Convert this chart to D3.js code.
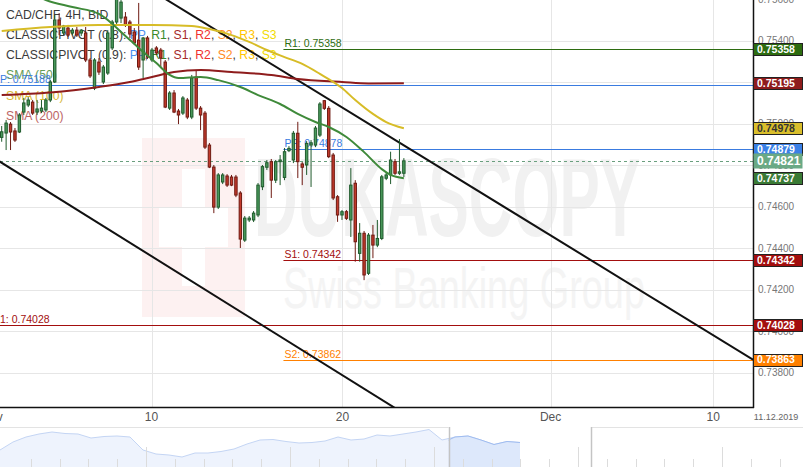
<!DOCTYPE html>
<html>
<head>
<meta charset="utf-8">
<script src="https://cdn.jsdelivr.net/npm/d3@7"></script>
<style>
  html, body { margin: 0; padding: 0; background: #fff; }
  svg { display: block; font-family: 'Liberation Sans', Arial, sans-serif; }
</style>
</head>
<body>
<div id="chart"></div>
<script>
// CAD/CHF 4H candles (bar index 0..91)
const opens = [0.74934, 0.74955, 0.74998, 0.74965, 0.74960, 0.75056, 0.75090, 0.75104, 0.75056, 0.75061,
  0.75066, 0.75114, 0.75201, 0.75500, 0.75437, 0.75461, 0.75437, 0.75451, 0.75437, 0.75437,
  0.75307, 0.75171, 0.75297, 0.75201, 0.75244, 0.75365, 0.75490, 0.75509, 0.75514, 0.75490,
  0.75442, 0.75403, 0.75307, 0.75413, 0.75307, 0.75365, 0.75355, 0.75297, 0.75075, 0.75148,
  0.75061, 0.75051, 0.75114, 0.75032, 0.75225, 0.75075, 0.75051, 0.74897, 0.74791, 0.74598,
  0.74719, 0.74748, 0.74743, 0.74743, 0.74666, 0.74439, 0.74536, 0.74536, 0.74560, 0.74696,
  0.74790, 0.74817, 0.74728, 0.74817, 0.74741, 0.74870, 0.74825, 0.74954, 0.74806, 0.74801,
  0.74897, 0.74897, 0.74945, 0.75111, 0.75074, 0.74849, 0.74648, 0.74560, 0.74576, 0.74536,
  0.74713, 0.74375, 0.74472, 0.74279, 0.74463, 0.74415, 0.74447, 0.74737, 0.74753, 0.74817,
  0.74761, 0.74761]
const highs = [0.74989, 0.75018, 0.75008, 0.74979, 0.75051, 0.75124, 0.75128, 0.75114, 0.75114, 0.75114,
  0.75124, 0.75210, 0.75524, 0.75533, 0.75476, 0.75476, 0.75461, 0.75466, 0.75456, 0.75466,
  0.75316, 0.75316, 0.75316, 0.75283, 0.75451, 0.75500, 0.75644, 0.75625, 0.75538, 0.75500,
  0.75461, 0.75582, 0.75418, 0.75423, 0.75365, 0.75374, 0.75365, 0.75307, 0.75157, 0.75162,
  0.75071, 0.75133, 0.75124, 0.75235, 0.75259, 0.75085, 0.75061, 0.74907, 0.74801, 0.74762,
  0.74762, 0.74757, 0.74753, 0.74753, 0.74675, 0.74555, 0.74555, 0.74579, 0.74714, 0.74801,
  0.74825, 0.74830, 0.74825, 0.74849, 0.74883, 0.74892, 0.74965, 0.75009, 0.74815, 0.74916,
  0.74921, 0.74989, 0.75104, 0.75114, 0.75085, 0.74859, 0.74656, 0.74584, 0.74584, 0.74786,
  0.74728, 0.74521, 0.74483, 0.74473, 0.74512, 0.74536, 0.74753, 0.74767, 0.74865, 0.74830,
  0.74926, 0.74834]
const lows = [0.74913, 0.74873, 0.74873, 0.74912, 0.74955, 0.75042, 0.75080, 0.75042, 0.75042, 0.75051,
  0.75056, 0.75104, 0.75196, 0.75427, 0.75427, 0.75418, 0.75427, 0.75418, 0.75423, 0.75297,
  0.75220, 0.75162, 0.75235, 0.75191, 0.75235, 0.75355, 0.75480, 0.75485, 0.75466, 0.75413,
  0.75379, 0.75259, 0.75220, 0.75312, 0.75297, 0.75331, 0.75268, 0.75075, 0.75066, 0.75051,
  0.74998, 0.75042, 0.75022, 0.75022, 0.75066, 0.74969, 0.74878, 0.74786, 0.74569, 0.74589,
  0.74709, 0.74695, 0.74699, 0.74646, 0.74401, 0.74430, 0.74526, 0.74526, 0.74550, 0.74680,
  0.74777, 0.74642, 0.74714, 0.74704, 0.74728, 0.74863, 0.74810, 0.74738, 0.74704, 0.74753,
  0.74695, 0.74887, 0.74936, 0.75066, 0.74834, 0.74632, 0.74527, 0.74536, 0.74536, 0.74454,
  0.74335, 0.74335, 0.74246, 0.74271, 0.74352, 0.74405, 0.74439, 0.74728, 0.74709, 0.74753,
  0.74753, 0.74743]
const closes = [0.74961, 0.75003, 0.74960, 0.74921, 0.75042, 0.75100, 0.75114, 0.75051, 0.75071, 0.75075,
  0.75114, 0.75201, 0.75500, 0.75461, 0.75471, 0.75427, 0.75451, 0.75427, 0.75451, 0.75307,
  0.75230, 0.75307, 0.75249, 0.75273, 0.75437, 0.75490, 0.75615, 0.75586, 0.75476, 0.75432,
  0.75389, 0.75273, 0.75413, 0.75321, 0.75355, 0.75341, 0.75316, 0.75080, 0.75148, 0.75056,
  0.75042, 0.75124, 0.75032, 0.75220, 0.75075, 0.75042, 0.74887, 0.74791, 0.74598, 0.74753,
  0.74753, 0.74704, 0.74704, 0.74656, 0.74444, 0.74545, 0.74545, 0.74569, 0.74704, 0.74793,
  0.74812, 0.74728, 0.74817, 0.74825, 0.74865, 0.74881, 0.74954, 0.74817, 0.74790, 0.74905,
  0.74908, 0.74979, 0.75095, 0.75074, 0.74841, 0.74642, 0.74560, 0.74576, 0.74544, 0.74704,
  0.74431, 0.74472, 0.74271, 0.74463, 0.74415, 0.74447, 0.74744, 0.74753, 0.74825, 0.74761,
  0.74768, 0.74821]

// moving averages, sampled at bar indices
const sma50Idx = [4, 10, 16, 22, 28, 31, 35, 38, 40, 45, 49, 54, 58, 63, 67, 71, 74, 78, 82, 86, 88, 91]
const sma50Val = [0.75663, 0.75596, 0.75562, 0.75529, 0.75423, 0.75365, 0.75292, 0.75235, 0.75220, 0.75225, 0.75210,
  0.75177, 0.75138, 0.75095, 0.75047, 0.75008, 0.74984, 0.74936, 0.74863, 0.74781, 0.74753, 0.74737]
const sma100Idx = [0, 11, 22, 34, 43, 47, 52, 56, 60, 64, 68, 72, 77, 80, 84, 87, 91]
const sma100Val = [0.75447, 0.75466, 0.75476, 0.75476, 0.75471, 0.75456, 0.75427, 0.75394, 0.75355, 0.75321,
  0.75288, 0.75240, 0.75172, 0.75114, 0.75047, 0.75008, 0.74978]
const sma200Idx = [0, 11, 22, 29, 34, 39, 45, 52, 61, 67, 77, 83, 91]
const sma200Val = [0.75138, 0.75150, 0.75177, 0.75201, 0.75225, 0.75249, 0.75259, 0.75249, 0.75235, 0.75215,
  0.75201, 0.75194, 0.75195]

// channel lines (bar index, price)
const upperTrendIdx = [30, 170]
const upperTrendVal = [0.75693, 0.73863]
const lowerTrendIdx = [-1, 95]
const lowerTrendVal = [0.74825, 0.73550]

// pivots
const prevPivotNames = ['PP', 'S1']
const prevPivotVals = [0.75188, 0.74028]
const curPivotNames = ['R1', 'PP', 'S1', 'S2']
const curPivotVals = [0.75358, 0.74878, 0.74342, 0.73862]
const curPivotStart = 63.75

const lastPrice = 0.74821

// price tags on the right axis
const tagVals = [0.75358, 0.75195, 0.74978, 0.74879, 0.74821, 0.74737, 0.74342, 0.74028, 0.73863]
const tagKinds = ['r1', 'sma200', 'sma100', 'pp', 'last', 'sma50', 's1', 's1', 's2']

// axes
const yTicks = [0.738, 0.740, 0.742, 0.744, 0.746, 0.748, 0.750, 0.752, 0.754, 0.756]
const xTickIdx = [-2.2, 33.9, 77.1, 124.2, 161]
const xTickLabels = ['Nov', '10', '20', 'Dec', '10']
const dateLabel = '11.12.2019'

// navigator overview series
const navVals = [0.747, 0.755, 0.760, 0.763, 0.765, 0.7635, 0.763, 0.759, 0.7605, 0.761, 0.760,
  0.747, 0.743, 0.742, 0.740, 0.744, 0.744, 0.7455, 0.748, 0.753, 0.757, 0.7575, 0.7555, 0.754,
  0.7545, 0.756, 0.760, 0.757, 0.758, 0.762, 0.761, 0.763, 0.765, 0.7675, 0.757, 0.760, 0.761,
  0.757, 0.7525, 0.7555, 0.7545]
const navWindowStart = 34.5

const width = 803, height = 467
const plotW = 753, plotH = 407

const colors = {
  up: '#4a9a5c', upLine: '#1f5a2c',
  down: '#c33a2c', downLine: '#6e1a12',
  sma50: '#3f8a3a', sma100: '#d7bc27', sma200: '#8e1c1c',
  r1: '#2d6c10', pp: '#3a7be0', s1: '#a30e0e', s2: '#ff8000'
}
const tagStyle = {
  r1: { fill: '#2d6c10', text: '#fff' },
  sma200: { fill: '#8e1c1c', text: '#fff' },
  sma100: { fill: '#d9be2b', text: '#333' },
  pp: { fill: '#3a80e6', text: '#fff' },
  last: { fill: '#6aa985', text: '#fff' },
  sma50: { fill: '#3a7a35', text: '#fff' },
  s1: { fill: '#a30e0e', text: '#fff' },
  s2: { fill: '#ff8000', text: '#fff' }
}
const pivotColor = { R1: colors.r1, PP: colors.pp, S1: colors.s1, S2: colors.s2 }

const x = d3.scaleLinear().domain([-0.385, 170]).range([0, plotW])
const y = d3.scaleLinear().domain([0.736347, 0.755961]).range([plotH, 0])

const svg = d3.select('#chart').append('svg')
  .attr('width', width).attr('height', height)
  .attr('viewBox', [0, 0, width, height])

svg.append('defs').append('clipPath').attr('id', 'plotclip')
  .append('rect').attr('width', plotW).attr('height', plotH)

const plot = svg.append('g').attr('clip-path', 'url(#plotclip)')

// watermark: logo with cross, then the name
const wm = plot.append('g')
wm.append('rect').attr('x', 142).attr('y', 138).attr('width', 103).attr('height', 179).attr('fill', '#fdf1f1')
wm.append('rect').attr('x', 182).attr('y', 169).attr('width', 23).attr('height', 117).attr('fill', '#fff')
wm.append('rect').attr('x', 159).attr('y', 207).attr('width', 69).attr('height', 40).attr('fill', '#fff')
wm.append('text').attr('x', 254).attr('y', 236).text('DUKASCOPY')
  .attr('font-size', 112).attr('font-weight', 'bold').attr('fill', '#f1f1f1')
  .attr('textLength', 386).attr('lengthAdjust', 'spacingAndGlyphs')
wm.append('text').attr('x', 283).attr('y', 308).text('Swiss Banking Group')
  .attr('font-size', 57).attr('fill', '#f4f4f4')
  .attr('textLength', 362).attr('lengthAdjust', 'spacingAndGlyphs')

// grid
plot.append('g').selectAll('line').data(yTicks).enter().append('line')
  .attr('x1', 0).attr('x2', plotW)
  .attr('y1', d => Math.round(y(d)) + 0.5).attr('y2', d => Math.round(y(d)) + 0.5)
  .attr('stroke', '#e6e6e6')
plot.append('g').selectAll('line').data(xTickIdx).enter().append('line')
  .attr('x1', d => Math.round(x(d)) + 0.5).attr('x2', d => Math.round(x(d)) + 0.5)
  .attr('y1', 0).attr('y2', plotH)
  .attr('stroke', '#e6e6e6')

// legend
const legend = plot.append('g').attr('font-size', 12.2).attr('fill', '#3a3a3a')
legend.append('text').attr('x', 6).attr('y', 19).text('CAD/CHF, 4H, BID')
const pivotLegendParts = [['PP', '#4d90f0'], ['R1', '#3b8a2a'], ['S1', '#a52a2a'], ['R2', '#f03030'],
  ['S2', '#ff8a1f'], ['R3', '#ffc400'], ['S3', '#f2dc00']]
;['0.8', '0.9'].forEach((p, k) => {
  const t = legend.append('text').attr('x', 6).attr('y', 39 + k * 20)
  t.append('tspan').text('CLASSICPIVOT (' + p + '): ')
  pivotLegendParts.forEach((part, j) => {
    t.append('tspan').attr('fill', part[1]).text(part[0])
    if (j < pivotLegendParts.length - 1) t.append('tspan').text(', ')
  })
})
legend.append('text').attr('x', 6).attr('y', 79).attr('fill', '#4a8a3a').attr('opacity', 0.85).text('SMA (50)')
legend.append('text').attr('x', 6).attr('y', 100).attr('fill', '#d4b020').attr('opacity', 0.9).text('SMA (100)')
legend.append('text').attr('x', 6).attr('y', 120).attr('fill', '#b24a4a').attr('opacity', 0.85).text('SMA (200)')

// pivot lines
const pivots = plot.append('g').attr('font-size', 10.5)
prevPivotVals.forEach((v, k) => {
  const py = Math.round(y(v)) + 0.5
  pivots.append('line').attr('x1', 0).attr('x2', plotW).attr('y1', py).attr('y2', py)
    .attr('stroke', pivotColor[prevPivotNames[k]])
  pivots.append('text').attr('x', -7).attr('y', py - 2.5)
    .attr('fill', pivotColor[prevPivotNames[k]])
    .text(prevPivotNames[k] + ': ' + v.toFixed(5))
})
curPivotVals.forEach((v, k) => {
  const py = Math.round(y(v)) + 0.5
  const x0 = x(curPivotStart)
  pivots.append('line').attr('x1', x0).attr('x2', plotW).attr('y1', py).attr('y2', py)
    .attr('stroke', pivotColor[curPivotNames[k]])
  pivots.append('text').attr('x', x0 + 1).attr('y', py - 2.5)
    .attr('fill', pivotColor[curPivotNames[k]])
    .text(curPivotNames[k] + ': ' + v.toFixed(5))
})

// last price dashed line
plot.append('line').attr('x1', 0).attr('x2', plotW)
  .attr('y1', Math.round(y(lastPrice)) + 0.5).attr('y2', Math.round(y(lastPrice)) + 0.5)
  .attr('stroke', '#6a9f7e').attr('stroke-dasharray', '3,3')

// channel lines
const straight = d3.line().x(d => x(d[0])).y(d => y(d[1]))
plot.append('path').attr('d', straight(upperTrendIdx.map((d, k) => [d, upperTrendVal[k]])))
  .attr('stroke', '#111').attr('stroke-width', 2).attr('fill', 'none')
plot.append('path').attr('d', straight(lowerTrendIdx.map((d, k) => [d, lowerTrendVal[k]])))
  .attr('stroke', '#111').attr('stroke-width', 2).attr('fill', 'none')

// candles
const candles = opens.map((o, i) => ({ i, o, h: highs[i], l: lows[i], c: closes[i] }))
const cg = plot.append('g')
cg.selectAll('line').data(candles).enter().append('line')
  .attr('x1', d => x(d.i)).attr('x2', d => x(d.i))
  .attr('y1', d => y(d.h)).attr('y2', d => y(d.l))
  .attr('stroke', d => d.c >= d.o ? colors.upLine : colors.downLine)
cg.selectAll('rect').data(candles).enter().append('rect')
  .attr('x', d => x(d.i) - 1.2)
  .attr('width', 2.4)
  .attr('y', d => y(Math.max(d.o, d.c)))
  .attr('height', d => Math.max(1, y(Math.min(d.o, d.c)) - y(Math.max(d.o, d.c))))
  .attr('fill', d => d.c >= d.o ? colors.up : colors.down)
  .attr('stroke', d => d.c >= d.o ? colors.upLine : colors.downLine)
  .attr('stroke-width', 1)

// moving averages
const smooth = d3.line().x(d => x(d[0])).y(d => y(d[1])).curve(d3.curveMonotoneX)
;[[sma200Idx, sma200Val, colors.sma200], [sma100Idx, sma100Val, colors.sma100], [sma50Idx, sma50Val, colors.sma50]]
  .forEach(s => {
    plot.append('path').attr('d', smooth(s[0].map((d, k) => [d, s[1][k]])))
      .attr('stroke', s[2]).attr('stroke-width', 2).attr('fill', 'none')
  })

// axes frame
svg.append('line').attr('x1', plotW + 0.5).attr('x2', plotW + 0.5).attr('y1', 0).attr('y2', plotH + 1)
  .attr('stroke', '#111').attr('stroke-width', 1.5)
svg.append('line').attr('x1', 0).attr('x2', plotW + 1).attr('y1', plotH + 0.5).attr('y2', plotH + 0.5)
  .attr('stroke', '#111').attr('stroke-width', 1.5)

// y tick labels
svg.append('g').selectAll('text').data(yTicks).enter().append('text')
  .attr('x', 758).attr('y', d => y(d) + 3.5)
  .attr('font-size', 10).attr('fill', '#777')
  .text(d => d.toFixed(5))

// price tags
const tags = svg.append('g')
tagVals.forEach((v, k) => {
  const st = tagStyle[tagKinds[k]]
  const big = tagKinds[k] === 'last'
  const h = big ? 15 : 12
  const ty = y(v)
  tags.append('rect').attr('x', plotW + 0.5).attr('y', Math.round(ty - h / 2) + 0.5)
    .attr('width', 49).attr('height', h)
    .attr('fill', st.fill).attr('stroke', big ? 'none' : '#222').attr('stroke-width', 1)
  tags.append('text').attr('x', 757).attr('y', ty + (big ? 4.5 : 3.8))
    .attr('font-size', big ? 12 : 10.5).attr('font-weight', 'bold').attr('fill', st.text)
    .text(v.toFixed(5))
})

// x tick labels
svg.append('g').selectAll('text').data(xTickIdx).enter().append('text')
  .attr('x', d => x(d)).attr('y', 421)
  .attr('text-anchor', 'middle').attr('font-size', 12).attr('fill', '#555')
  .text((d, k) => xTickLabels[k])
svg.append('text').attr('x', 776).attr('y', 420).attr('text-anchor', 'middle')
  .attr('font-size', 9).attr('fill', '#666').text(dateLabel)

// navigator
const nav = svg.append('g').attr('transform', 'translate(0,427)')
const nx = d3.scaleLinear().domain([0, navVals.length - 1]).range([0, 520])
const ny = d3.scaleLinear().domain([0.73, 0.77]).range([40, 0])
nav.append('line').attr('x1', 0).attr('x2', nx(navWindowStart)).attr('y1', 0.5).attr('y2', 0.5).attr('stroke', '#e3e3e3')
nav.append('line').attr('x1', 591).attr('x2', width).attr('y1', 0.5).attr('y2', 0.5).attr('stroke', '#e3e3e3')
const navArea = d3.area().x((d, k) => nx(k)).y0(40).y1(d => ny(d))
const navLine = d3.line().x((d, k) => nx(k)).y(d => ny(d))
nav.append('path').attr('d', navArea(navVals)).attr('fill', '#eef3fd')
nav.append('path').attr('d', navLine(navVals)).attr('fill', 'none').attr('stroke', '#c4d5f4')
const winPts = navVals.map((d, k) => [k, d]).filter(p => p[0] >= 34)
const winArea = d3.area().x(p => nx(Math.max(p[0], navWindowStart))).y0(40).y1(p => ny(p[1]))
nav.append('path').attr('d', winArea(winPts)).attr('fill', '#dde8fb')
nav.append('path').attr('d', d3.line().x(p => nx(Math.max(p[0], navWindowStart))).y(p => ny(p[1]))(winPts))
  .attr('fill', 'none').attr('stroke', '#9fbcf0')
// day ticks, with a taller one each week
for (let k = 0; k < 27; k++) {
  const tx = Math.round(30.7 + k * 28.8) + 0.5
  nav.append('line').attr('x1', tx).attr('x2', tx)
    .attr('y1', k % 5 === 4 ? 20 : 32).attr('y2', 40).attr('stroke', '#dcdcdc')
}
;[nx(navWindowStart), 591].forEach(vx => {
  nav.append('line').attr('x1', Math.round(vx) + 0.5).attr('x2', Math.round(vx) + 0.5)
    .attr('y1', 0).attr('y2', 40).attr('stroke', '#c4c4c4').attr('stroke-width', 1.5)
})
</script>
</body>
</html>
